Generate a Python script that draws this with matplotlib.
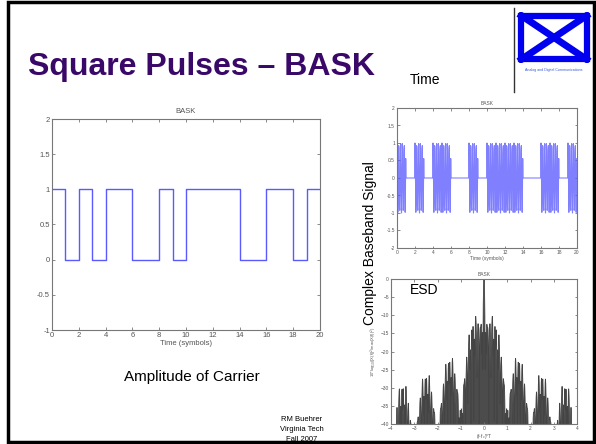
import matplotlib
matplotlib.use("Agg")
import matplotlib.pyplot as plt
import numpy as np
from matplotlib.patches import Rectangle
from matplotlib.lines import Line2D

plt.rcParams['font.family'] = ['Liberation Sans', 'DejaVu Sans']

# bit sequence (one bit per symbol)
bits = [1, 0, 1, 0, 1, 1, 0, 0, 1, 0, 1, 1, 1, 1, 0, 0, 1, 1, 0, 1]
sps = 32          # samples per symbol
fc = 5            # carrier cycles per symbol
left_yticks = [-1, -0.5, 0, 0.5, 1, 1.5, 2]
time_xticks = [0, 2, 4, 6, 8, 10, 12, 14, 16, 18, 20]
right_yticks = [-2, -1.5, -1, -0.5, 0, 0.5, 1, 1.5, 2]
esd_xticks = [-4, -3, -2, -1, 0, 1, 2, 3, 4]
esd_yticks = [-40, -35, -30, -25, -20, -15, -10, -5, 0]

W, H = 596, 444
fig = plt.figure(figsize=(W / 100, H / 100), dpi=100)


def px_axes(x0, x1, ytop, ybot):
    return fig.add_axes([x0 / W, (H - ybot) / H, (x1 - x0) / W, (ybot - ytop) / H])


def matlab_style(ax, fs):
    for s in ax.spines.values():
        s.set_color('#777777')
        s.set_linewidth(0.8)
    ax.tick_params(direction='in', top=True, right=True, length=2.5, width=0.6,
                   colors='#777777', labelcolor='#555555', labelsize=fs, pad=1.5)


# slide frame
fig.patches.append(Rectangle((8 / W, 2 / H), 586 / W, 440 / H, transform=fig.transFigure,
                             fill=False, edgecolor='black', linewidth=2.5))
fig.text(28 / W, 1 - 75 / H, 'Square Pulses \u2013 BASK', fontsize=23, fontweight='bold',
         color='#3a0868', ha='left', va='baseline')

# logo
fig.add_artist(Line2D([514 / W, 514 / W], [1 - 8 / H, 1 - 92 / H], color='#333333', lw=1,
                      transform=fig.transFigure))
lg = px_axes(516, 592, 12, 63)
lg.set_xlim(0, 1)
lg.set_ylim(0, 1)
lg.axis('off')
lg.add_patch(Rectangle((0.07, 0.07), 0.86, 0.86, fill=False, edgecolor='#0000ee', lw=4.5))
lg.plot([0.07, 0.93], [0.93, 0.07], color='#0000ee', lw=5)
lg.plot([0.07, 0.93], [0.07, 0.93], color='#0000ee', lw=5)
fig.text(554 / W, 1 - 70 / H, 'Analog and Digital Communications', fontsize=2.6,
         color='#3355dd', ha='center', va='center')

# left: amplitude of carrier
t_step = np.arange(len(bits) + 1)
ax1 = px_axes(52, 320, 119, 330)
ax1.plot(t_step, bits + [bits[-1]], drawstyle='steps-post', color='#5a5aff', lw=1)
ax1.set_xlim(0, 20)
ax1.set_ylim(-1, 2)
ax1.set_xticks(time_xticks)
ax1.set_yticks(left_yticks)
ax1.set_yticklabels(['-1', '-0.5', '0', '0.5', '1', '1.5', '2'])
matlab_style(ax1, 5.5)
ax1.set_title('BASK', fontsize=5.5, color='#555555', pad=4)
ax1.set_xlabel('Time (symbols)', fontsize=5.5, color='#555555', labelpad=1)
fig.text(192 / W, 1 - 377 / H, 'Amplitude of Carrier', fontsize=11, ha='center', va='center')

# top right: modulated signal
bb = np.repeat(bits, sps).astype(float)
t = np.arange(len(bb)) / sps
sig = bb * np.cos(2 * np.pi * fc * t)
ax2 = px_axes(397, 577, 108, 248)
ax2.plot(t, sig, color='#5555ff', lw=0.8, alpha=0.75)
ax2.set_xlim(0, 20)
ax2.set_ylim(-2, 2)
ax2.set_xticks(time_xticks)
ax2.set_yticks(right_yticks)
ax2.set_yticklabels(['-2', '-1.5', '-1', '-0.5', '0', '0.5', '1', '1.5', '2'])
matlab_style(ax2, 3.5)
ax2.tick_params(length=1.8)
ax2.set_title('BASK', fontsize=3.5, color='#555555', pad=2)
ax2.set_xlabel('Time (symbols)', fontsize=3.5, color='#555555', labelpad=1)

# bottom right: energy spectral density of the baseband waveform
nfft = 2 ** 15
X = np.fft.fftshift(np.fft.fft(bb, nfft))
f = np.fft.fftshift(np.fft.fftfreq(nfft, d=1 / sps))
esd = 10 * np.log10(np.abs(X) ** 2 / np.max(np.abs(X) ** 2) + 1e-12)
ax3 = px_axes(391, 577, 279, 424)
ax3.fill_between(f, esd, -40, color='black', alpha=0.7, lw=0)
ax3.plot(f, esd, color='#444444', lw=0.6)
ax3.set_xlim(-4, 4)
ax3.set_ylim(-40, 0)
ax3.set_xticks(esd_xticks)
ax3.set_yticks(esd_yticks)
matlab_style(ax3, 3.5)
ax3.tick_params(length=1.8)
ax3.set_title('BASK', fontsize=3.5, color='#555555', pad=2)
ax3.set_xlabel('(f-f$_c$)*T', fontsize=3.5, color='#555555', labelpad=1)
ax3.set_ylabel('10*log$_{10}$(|X(f)|$^2$/max|X(f)|$^2$)', fontsize=3, color='#555555', labelpad=1)

fig.text(410 / W, 1 - 80 / H, 'Time', fontsize=10, ha='left', va='center')
fig.text(410 / W, 1 - 290 / H, 'ESD', fontsize=10, ha='left', va='center')
fig.text(370 / W, 1 - 243 / H, 'Complex Baseband Signal', fontsize=10, rotation=90,
         ha='center', va='center')

for i, line in enumerate(['RM Buehrer', 'Virginia Tech', 'Fall 2007']):
    fig.text(302 / W, 1 - (419 + 10 * i) / H, line, fontsize=5.5, ha='center', va='center')

fig.savefig('out.png', dpi=100)
